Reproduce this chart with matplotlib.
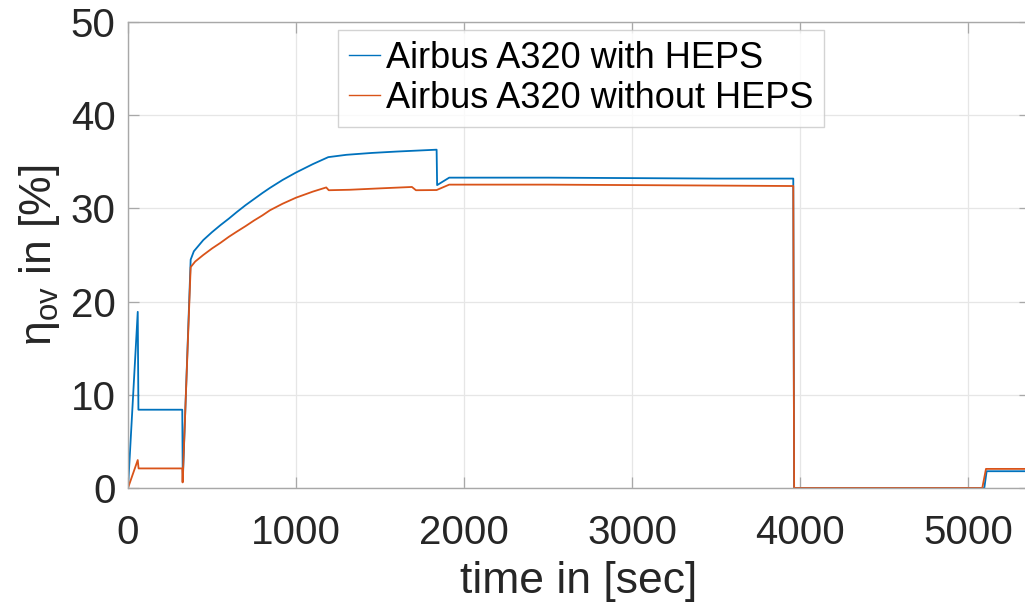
import matplotlib
matplotlib.use("Agg")
import matplotlib.pyplot as plt

plt.rcParams["font.family"] = ["Liberation Sans", "DejaVu Sans"]
plt.rcParams["mathtext.fontset"] = "custom"
plt.rcParams["mathtext.rm"] = "Liberation Sans"
plt.rcParams["mathtext.it"] = "Liberation Sans:italic"

# Overall efficiency over the flight mission
t_heps = [0, 58, 62, 323, 326, 373, 392, 420, 448, 500, 550, 600, 647, 700, 750, 800, 845,
          920, 1000, 1100, 1192, 1300, 1450, 1600, 1837, 1840, 1912, 2500, 3000, 3500,
          3960, 3965, 5097, 5111, 5370]
eta_heps = [0, 18.9, 8.4, 8.4, 0.7, 24.5, 25.4, 26.0, 26.6, 27.45, 28.2, 28.9, 29.6, 30.35, 31.0, 31.65, 32.2,
            33.05, 33.85, 34.75, 35.5, 35.75, 35.95, 36.1, 36.3, 32.5, 33.3, 33.3, 33.25, 33.2,
            33.2, 0, 0, 1.8, 1.8]

t_base = [0, 58, 63, 323, 325, 373, 400, 448, 500, 550, 600, 647, 700, 750, 800, 845, 920,
          1000, 1100, 1180, 1195, 1320, 1500, 1690, 1714, 1837, 1912, 2500, 3000, 3500,
          3960, 3965, 5085, 5107, 5370]
eta_base = [0, 3.0, 2.1, 2.1, 0.6, 23.7, 24.3, 25.0, 25.7, 26.3, 26.95, 27.5, 28.1, 28.7, 29.25, 29.8, 30.5,
            31.15, 31.8, 32.25, 31.95, 32.0, 32.15, 32.3, 31.95, 31.97, 32.55, 32.55, 32.5, 32.45,
            32.4, 0, 0, 2.05, 2.05]

series_labels = ["Airbus A320 with HEPS", "Airbus A320 without HEPS"]
x_ticks = [0, 1000, 2000, 3000, 4000, 5000]
y_ticks = [0, 10, 20, 30, 40, 50]

W, H = 1025, 607
fig = plt.figure(figsize=(W / 100, H / 100), dpi=100)
left, right, top, bottom = 128, 1030, 22, 488
ax = fig.add_axes([left / W, 1 - bottom / H, (right - left) / W, (bottom - top) / H])

ax.plot(t_heps, eta_heps, color="#0072BD", lw=1.3, label=series_labels[0])
ax.plot(t_base, eta_base, color="#D95319", lw=1.3, label=series_labels[1])

ax.set_xlim(0, (right - left) / 0.168)
ax.set_ylim(0, 50)
ax.set_xticks(x_ticks)
ax.set_yticks(y_ticks)
ax.grid(True, color="#e6e6e6", lw=0.9)
ax.set_axisbelow(True)

for s in ax.spines.values():
    s.set_color("#a8a8a8")
    s.set_linewidth(1.0)
ax.tick_params(direction="in", length=8, width=0.9, color="#a8a8a8",
               labelsize=29, labelcolor="#262626", top=True, right=True)
ax.tick_params(axis="x", pad=19)
ax.tick_params(axis="y", pad=9)

ax.set_xlabel("time in [sec]", fontsize=32, color="#262626", labelpad=6)
ax.set_ylabel(r"η$_{\mathrm{ov}}$ in [%]", fontsize=32, color="#262626", labelpad=6)

leg = ax.legend(loc="upper left", bbox_to_anchor=(338 / W, 1 - 30 / H),
                bbox_transform=fig.transFigure, fontsize=26, frameon=True,
                fancybox=False, edgecolor="#c8c8c8", handlelength=0.87,
                handletextpad=0.15, labelspacing=0.14, borderpad=0.3,
                borderaxespad=0)
leg.get_frame().set_linewidth(1.0)
for text in leg.get_texts():
    text.set_color("black")
for line in leg.get_lines():
    line.set_linewidth(1.0)

fig.savefig("out.png", dpi=100)
